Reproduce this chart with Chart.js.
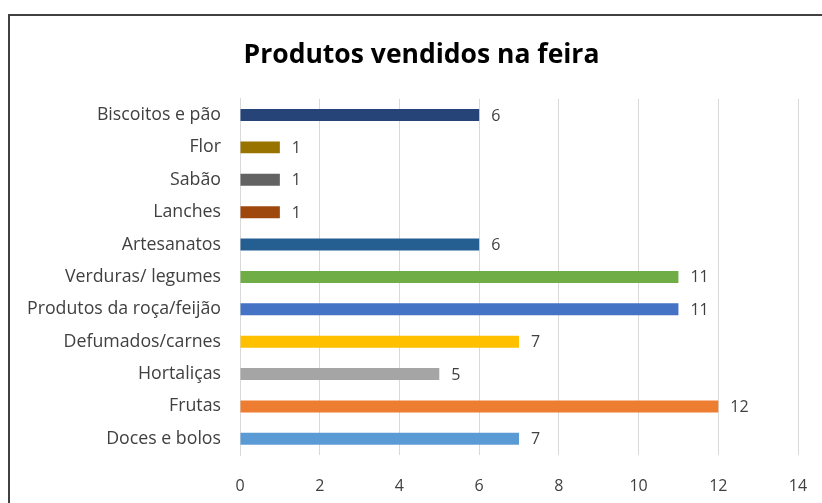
<!DOCTYPE html>
<html>
<head>
<meta charset="utf-8">
<script src="https://cdn.jsdelivr.net/npm/chart.js@4/dist/chart.umd.min.js"></script>
<style>
  html, body { margin: 0; padding: 0; background: #fff; overflow: hidden; }
  #frame { position: absolute; left: 8px; top: 14px; width: 840px; height: 520px; border: 2px solid #404040; box-sizing: border-box; }
  #wrap { position: absolute; left: 0; top: 0; width: 843px; height: 503px; }
</style>
</head>
<body>
<div id="frame"></div>
<div id="wrap"><canvas id="chart"></canvas></div>
<script>
// categories top to bottom, as shown
const categories = ['Biscoitos e pão', 'Flor', 'Sabão', 'Lanches', 'Artesanatos', 'Verduras/ legumes',
  'Produtos da roça/feijão', 'Defumados/carnes', 'Hortaliças', 'Frutas', 'Doces e bolos'];
const quantities = [6, 1, 1, 1, 6, 11, 11, 7, 5, 12, 7];
const barColors = ['#264478', '#997300', '#636363', '#9E480E', '#255E91', '#70AD47',
  '#4472C4', '#FFC000', '#A5A5A5', '#ED7D31', '#5B9BD5'];
const xTicks = [0, 2, 4, 6, 8, 10, 12, 14];

const FONT = '"Open Sans", sans-serif';

// value labels at the end of each bar
const valueLabels = {
  id: 'valueLabels',
  afterDatasetsDraw(chart) {
    const ctx = chart.ctx;
    const meta = chart.getDatasetMeta(0);
    ctx.save();
    ctx.font = '16px ' + FONT;
    ctx.fillStyle = '#404040';
    ctx.textAlign = 'left';
    ctx.textBaseline = 'middle';
    meta.data.forEach((bar, i) => {
      ctx.fillText(String(quantities[i]), bar.x + 12, bar.y + 1);
    });
    ctx.restore();
  }
};

new Chart(document.getElementById('chart'), {
  type: 'bar',
  data: {
    labels: categories,
    datasets: [{
      data: quantities,
      backgroundColor: barColors,
      borderWidth: 0,
      categoryPercentage: 1,
      barPercentage: 0.37
    }]
  },
  options: {
    indexAxis: 'y',
    responsive: true,
    maintainAspectRatio: false,
    animation: false,
    layout: { padding: 0 },
    plugins: {
      legend: { display: false },
      tooltip: { enabled: false },
      title: {
        display: true,
        text: 'Produtos vendidos na feira',
        color: '#000',
        font: { family: FONT, size: 26.5, weight: 'bold' },
        padding: { top: 40, bottom: 27 }
      }
    },
    scales: {
      x: {
        min: 0, max: 14,
        afterBuildTicks: (s) => { s.ticks = xTicks.map(v => ({ value: v })); },
        grid: { color: '#d9d9d9', drawTicks: false },
        border: { display: false },
        ticks: { color: '#404040', font: { family: FONT, size: 16 }, padding: 22 },
        afterFit: (s) => { s.height = 48; }
      },
      y: {
        grid: { display: false, drawTicks: false },
        border: { display: true, color: '#d9d9d9' },
        ticks: { color: '#404040', font: { family: FONT, size: 17.75 }, padding: 19, autoSkip: false },
        afterFit: (s) => { s.width = 240; }
      },
      // empty right-hand spacer so the plot ends where the reference does
      yRight: {
        type: 'linear',
        position: 'right',
        grid: { display: false },
        border: { display: false },
        ticks: { display: false },
        afterFit: (s) => { s.width = 45; }
      }
    }
  },
  plugins: [valueLabels]
});
</script>
</body>
</html>
